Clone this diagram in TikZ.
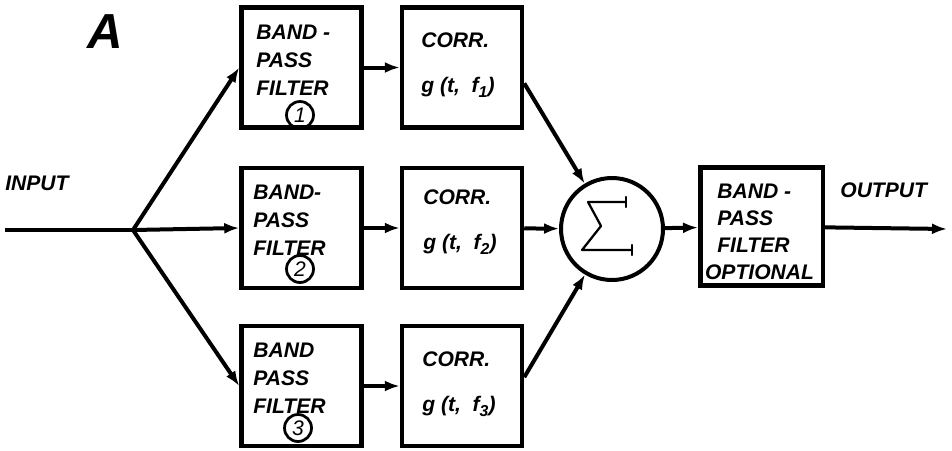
\documentclass[tikz,border=0pt]{standalone}
\usepackage{fontspec}
\setmainfont{Liberation Sans}
\usetikzlibrary{arrows.meta}

% lowered index digit, as in g(t, f_1)
\newcommand{\fsub}[1]{\raisebox{-3pt}{\fontsize{9}{9}\selectfont #1}}

\begin{document}
\begin{tikzpicture}[
  x=0.02cm, y=-0.02cm,
  box/.style={draw, line width=0.09cm, minimum width=2.4cm, minimum height=2.4cm, inner sep=0pt},
  lbl/.style={anchor=west, align=left, inner sep=0pt, font=\fontsize{12}{16}\selectfont\bfseries\itshape},
  corrlbl/.style={lbl, font=\fontsize{12}{25.6}\selectfont\bfseries\itshape},
  num/.style={draw, circle, line width=0.055cm, minimum size=0.54cm, inner sep=0pt, font=\fontsize{12}{12}\selectfont\itshape},
  wire/.style={line width=0.08cm},
  arr/.style={wire, -{Latex[length=0.3cm,width=0.22cm]}},
  sig/.style={line width=0.045cm, line cap=round, line join=round}
]
  \useasboundingbox (0,0) rectangle (952,450);

  \node[font=\fontsize{28}{28}\selectfont\bfseries\itshape] (title) at (105,32) {A};
  \node[lbl] (inlbl) at (5,183) {INPUT};
  \node[lbl] (outlbl) at (840,190) {OUTPUT};

  % filter and correlator banks
  \node[box] (bpf1) at (301.5,67.5) {};
  \node[box] (bpf2) at (301.5,228) {};
  \node[box] (bpf3) at (301.5,386) {};
  \node[box] (corr1) at (462,67.5) {};
  \node[box] (corr2) at (462,228) {};
  \node[box] (corr3) at (462,386) {};

  \node[lbl] (bpf1txt) at (256,60) {BAND -\\PASS\\FILTER};
  \node[lbl] (bpf2txt) at (253,220) {BAND-\\PASS\\FILTER};
  \node[lbl] (bpf3txt) at (253,378) {BAND\\PASS\\FILTER};
  \node[num] (n1) at (300,115) {1};
  \node[num] (n2) at (300,269) {2};
  \node[num] (n3) at (298,428) {3};

  \node[corrlbl] (corr1txt) at (421,65) {CORR.\\g (t,\ \ f\fsub{1})};
  \node[corrlbl] (corr2txt) at (423,222) {CORR.\\g (t,\ \ f\fsub{2})};
  \node[corrlbl] (corr3txt) at (422,384) {CORR.\\g (t,\ \ f\fsub{3})};

  % summing junction
  \node[draw, circle, line width=0.08cm, minimum size=2.04cm] (sum) at (612,229) {};
  \draw[sig, shift={(sum.center)}] (14,-27) -- (-24,-27) -- (-11,-3) -- (-30,21) -- (20,21);
  \draw[sig, shift={(sum.center)}] (14,-32) -- (14,-22) (20,16) -- (20,26);

  \node[box, minimum width=2.45cm, minimum height=2.37cm] (bpfout) at (761.5,226.5) {};
  \node[lbl, font=\fontsize{12}{15.4}\selectfont\bfseries\itshape] (bpfouttxt) at (717,232)
    {BAND -\\PASS\\FILTER\\\hspace*{-7pt}OPTIONAL};

  \coordinate (in) at (5,230);
  \coordinate (split) at (133,230);
  \coordinate (out) at (947,229);

  \draw[wire] (in) -- (split);
  \foreach \i in {1,2,3} {
    \draw[arr] (split) -- (bpf\i.west);
    \draw[arr] (bpf\i) -- (corr\i);
  }
  \draw[arr] ([yshift=-9pt]corr1.east) -- (sum);
  \draw[arr] (corr2) -- (sum);
  \draw[arr] ([yshift=5pt]corr3.east) -- (sum);
  \draw[arr] (sum) -- (bpfout);
  \draw[arr] (bpfout) -- (out);
\end{tikzpicture}
\end{document}
